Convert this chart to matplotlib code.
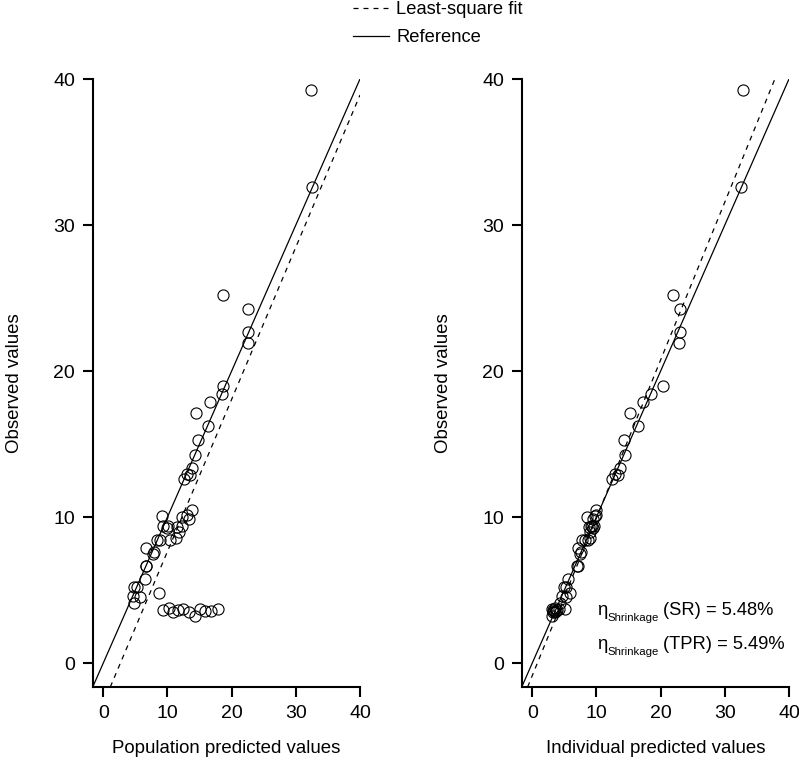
import numpy as np
import matplotlib
matplotlib.use('Agg')
import matplotlib.pyplot as plt

plt.rcParams['font.family'] = ['Liberation Sans', 'DejaVu Sans']
plt.rcParams['lines.scale_dashes'] = False

# observed values (shared by both panels)
observed = [39.25, 32.58, 25.18, 24.27, 22.65, 21.94, 18.97, 18.42, 17.88, 17.15,
            16.23, 15.27, 14.25, 13.33, 12.88, 12.95, 12.58, 10.45, 10.14, 9.84,
            10.02, 10.05, 9.41, 9.41, 9.22, 9.34, 9.41, 8.95, 8.58, 8.42,
            8.42, 8.42, 7.85, 7.63, 7.47, 6.67, 6.67, 5.75, 5.23, 5.23,
            4.59, 4.50, 4.09, 4.82, 3.63, 3.79, 3.47, 3.63, 3.68, 3.47,
            3.24, 3.68, 3.56, 3.56, 3.68]

# population predictions
pop_pred = [32.35, 32.56, 18.7, 22.5, 22.6, 22.5, 18.65, 18.5, 16.6, 14.44,
            16.3, 14.75, 14.33, 13.9, 13.5, 13.1, 12.6, 13.75, 13.0, 13.35,
            12.25, 9.2, 9.35, 10.1, 9.87, 11.43, 12.2, 11.8, 11.27, 10.4,
            8.83, 8.3, 6.65, 7.95, 7.7, 6.6, 6.7, 6.5, 4.83, 5.3,
            4.58, 5.72, 4.83, 8.72, 9.35, 10.23, 10.9, 11.7, 12.46, 13.4,
            14.28, 15.06, 15.84, 16.78, 17.9]

# individual predictions
ind_pred = [32.77, 32.5, 21.97, 23.0, 23.0, 22.85, 20.4, 18.45, 17.2, 15.3,
            16.5, 14.3, 14.4, 13.7, 13.3, 12.9, 12.5, 9.9, 10.0, 9.5,
            8.6, 9.8, 9.1, 9.6, 9.4, 8.8, 9.3, 9.0, 9.0, 8.7,
            7.8, 8.2, 7.2, 7.6, 7.4, 7.0, 7.1, 5.5, 4.9, 5.2,
            4.6, 5.3, 4.3, 5.9, 3.3, 3.6, 3.2, 3.9, 3.0, 3.5,
            3.1, 4.2, 3.4, 3.7, 5.1]

# least-square fit (slope, intercept) for each panel
pop_fit = (1.042, -2.78)
ind_fit = (1.081, -0.86)

# shrinkage annotations
shrink_names = ['(SR) = 5.48%', '(TPR) = 5.49%']
shrink_y = [3.3, 0.96]

fig = plt.figure(figsize=(7.99, 7.58), dpi=100)
ax1 = fig.add_axes([93/799, 1 - 687/758, 267/799, 608/758])
ax2 = fig.add_axes([522/799, 1 - 687/758, 267/799, 608/758])


def panel(ax, xs, fit, xlabel):
    ax.plot(xs, observed, linestyle='none', marker='o', markersize=8,
            markerfacecolor='none', markeredgecolor='black', markeredgewidth=0.8)
    ax.axline((0, 0), slope=1, color='black', lw=0.9)
    ax.axline((0, fit[1]), slope=fit[0], color='black', lw=0.9, dashes=(3.6, 3.6))
    ax.set_xlim(-1.6, 40)
    ax.set_ylim(-1.64, 40)
    ax.set_xticks([0, 10, 20, 30, 40])
    ax.set_yticks([0, 10, 20, 30, 40])
    for s in ['top', 'right']:
        ax.spines[s].set_visible(False)
    for s in ['left', 'bottom']:
        ax.spines[s].set_linewidth(1.5)
    ax.tick_params(direction='out', length=7, width=1.5, labelsize=14, pad=6)
    ax.set_xlabel(xlabel, fontsize=13.4, labelpad=13)
    ax.set_ylabel('Observed values', fontsize=13.4, labelpad=22)


panel(ax1, pop_pred, pop_fit, 'Population predicted values')
panel(ax2, ind_pred, ind_fit, 'Individual predicted values')

# eta with a small subscript, then the value text
for name, yv in zip(shrink_names, shrink_y):
    ax2.annotate(u'\u03b7', xy=(10.08, yv), xytext=(0, 0), textcoords='offset points',
                 fontsize=13.4, va='baseline', ha='left')
    ax2.annotate('Shrinkage', xy=(10.08, yv), xytext=(7.9, -4.6), textcoords='offset points',
                 fontsize=8.2, va='baseline', ha='left')
    ax2.annotate(name, xy=(10.08, yv), xytext=(47.5, 0), textcoords='offset points',
                 fontsize=13.2, va='baseline', ha='left')

h1, = ax1.plot([], [], color='black', lw=0.9, dashes=(3.6, 3.6))
h2, = ax1.plot([], [], color='black', lw=0.9)
fig.legend([h1, h2], ['Least-square fit', 'Reference'], loc='upper left',
           bbox_to_anchor=(336/799, 1.02), frameon=False, fontsize=13.2,
           handlelength=2.0, handletextpad=0.4, labelspacing=0.6)

plt.savefig('out.png', dpi=100)
